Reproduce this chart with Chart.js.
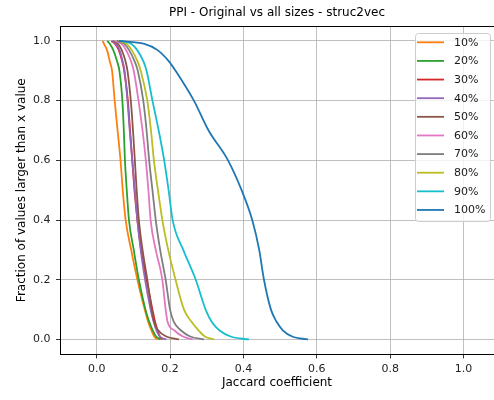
<!DOCTYPE html>
<html>
<head>
<meta charset="utf-8">
<script src="https://cdn.jsdelivr.net/npm/chart.js@4.4.0/dist/chart.umd.min.js"></script>
<style>
  html, body { margin: 0; padding: 0; background: #fff; }
</style>
</head>
<body>
<canvas id="ppiChart" width="494" height="400"></canvas>
<script>
// fraction levels (y) shared by every curve; each series gives the jaccard value (x) at that level
const fractionLevels = [1.0, 0.99, 0.97, 0.93, 0.9, 0.8, 0.7, 0.6, 0.5, 0.4, 0.3, 0.2, 0.1, 0.06, 0.03, 0.01, 0.0];

const sizeLabels = ['10%', '20%', '30%', '40%', '50%', '60%', '70%', '80%', '90%', '100%'];
const sizeColors = ['#ff7f0e', '#2ca02c', '#d62728', '#9467bd', '#8c564b', '#e377c2', '#7f7f7f', '#bcbd22', '#17becf', '#1f77b4'];

const jac10  = [0.016, 0.020, 0.028, 0.036, 0.042, 0.049, 0.057, 0.065, 0.071, 0.079, 0.094, 0.111, 0.131, 0.140, 0.149, 0.157, 0.166];
const jac20  = [0.029, 0.036, 0.045, 0.056, 0.062, 0.070, 0.074, 0.077, 0.082, 0.088, 0.101, 0.115, 0.133, 0.143, 0.153, 0.162, 0.174];
const jac30  = [0.040, 0.050, 0.060, 0.070, 0.075, 0.085, 0.091, 0.097, 0.103, 0.111, 0.121, 0.136, 0.152, 0.159, 0.166, 0.172, 0.180];
const jac40  = [0.042, 0.052, 0.062, 0.071, 0.076, 0.084, 0.090, 0.097, 0.104, 0.111, 0.120, 0.132, 0.147, 0.155, 0.163, 0.172, 0.190];
const jac50  = [0.045, 0.058, 0.068, 0.079, 0.084, 0.093, 0.099, 0.104, 0.109, 0.115, 0.125, 0.138, 0.150, 0.156, 0.168, 0.190, 0.224];
const jac60  = [0.050, 0.068, 0.080, 0.094, 0.101, 0.114, 0.125, 0.134, 0.141, 0.147, 0.161, 0.179, 0.188, 0.193, 0.212, 0.235, 0.262];
const jac70  = [0.055, 0.075, 0.088, 0.104, 0.112, 0.127, 0.136, 0.143, 0.152, 0.161, 0.173, 0.188, 0.200, 0.210, 0.230, 0.255, 0.293];
const jac80  = [0.060, 0.082, 0.095, 0.112, 0.120, 0.138, 0.148, 0.156, 0.167, 0.179, 0.195, 0.215, 0.238, 0.258, 0.278, 0.295, 0.320];
const jac90  = [0.065, 0.095, 0.110, 0.128, 0.136, 0.152, 0.169, 0.184, 0.196, 0.207, 0.236, 0.270, 0.297, 0.313, 0.335, 0.365, 0.415];
const jac100 = [0.060, 0.130, 0.165, 0.198, 0.215, 0.265, 0.305, 0.358, 0.395, 0.424, 0.443, 0.456, 0.475, 0.490, 0.508, 0.533, 0.576];

const allJac = [jac10, jac20, jac30, jac40, jac50, jac60, jac70, jac80, jac90, jac100];

const xTicks = [0.0, 0.2, 0.4, 0.6, 0.8, 1.0];
const yTicks = [0.0, 0.2, 0.4, 0.6, 0.8, 1.0];

const fontFamily = '"DejaVu Sans", sans-serif';

// matplotlib style legend inside the upper right corner
const legendBox = {
    id: 'legendBox',
    afterDatasetsDraw(chart) {
        const ctx = chart.ctx;
        ctx.save();
        ctx.beginPath();
        ctx.roundRect(415.5, 33.5, 75, 188, 3);
        ctx.fillStyle = 'rgba(255,255,255,0.8)';
        ctx.fill();
        ctx.strokeStyle = '#cccccc';
        ctx.lineWidth = 1;
        ctx.stroke();
        ctx.font = '11px ' + fontFamily;
        ctx.textBaseline = 'middle';
        chart.data.datasets.forEach((ds, i) => {
            const y = 42.3 + i * 18.63;
            ctx.strokeStyle = ds.borderColor;
            ctx.lineWidth = 1.8;
            ctx.beginPath();
            ctx.moveTo(417, y);
            ctx.lineTo(444, y);
            ctx.stroke();
            ctx.fillStyle = '#1a1a1a';
            ctx.fillText(ds.label, 454, y + 0.5);
        });
        ctx.restore();
    }
};

// top spine (matplotlib draws a full frame)
const topSpine = {
    id: 'topSpine',
    afterDraw(chart) {
        const a = chart.chartArea;
        const ctx = chart.ctx;
        ctx.save();
        ctx.strokeStyle = '#000';
        ctx.lineWidth = 1;
        ctx.beginPath();
        ctx.moveTo(a.left, Math.round(a.top) + 0.5);
        ctx.lineTo(a.right, Math.round(a.top) + 0.5);
        ctx.stroke();
        ctx.restore();
    }
};

function survivalChart() {
    const ctx = document.getElementById('ppiChart').getContext('2d');
    const datasets = allJac.map((xs, i) => ({
        label: sizeLabels[i],
        data: fractionLevels.map((f, j) => ({ x: xs[j], y: f })),
        borderColor: sizeColors[i],
        borderWidth: 1.8,
        pointRadius: 0,
        cubicInterpolationMode: 'monotone',
        fill: false,
        order: allJac.length - 1 - i
    }));

    new Chart(ctx, {
        type: 'line',
        data: { datasets: datasets },
        options: {
            responsive: false,
            animation: false,
            layout: { padding: 0 },
            plugins: {
                legend: { display: false },
                tooltip: { enabled: false },
                title: {
                    display: true,
                    fullSize: false,
                    text: 'PPI - Original vs all sizes - struc2vec',
                    color: '#000',
                    font: { family: fontFamily, size: 12, weight: 'normal' },
                    padding: { top: 6, bottom: 5.6 }
                }
            },
            scales: {
                x: {
                    type: 'linear',
                    min: -0.1,
                    max: 1.083,
                    afterFit: s => { s.height = 45.6; },
                    afterBuildTicks: s => { s.ticks = xTicks.map(v => ({ value: v })); },
                    ticks: {
                        callback: v => v.toFixed(1),
                        color: '#222',
                        font: { family: fontFamily, size: 11 },
                        padding: 4,
                        maxRotation: 0,
                        autoSkip: false
                    },
                    grid: { color: '#b0b0b0', lineWidth: 0.8, tickColor: '#000', tickLength: 4, tickWidth: 0.8 },
                    border: { color: '#000', width: 1 },
                    title: {
                        display: true,
                        text: 'Jaccard coefficient',
                        color: '#000',
                        font: { family: fontFamily, size: 12 },
                        padding: { top: 0, bottom: 10 }
                    }
                },
                y: {
                    type: 'linear',
                    min: -0.05,
                    max: 1.05,
                    afterFit: s => { s.width = 60; },
                    afterBuildTicks: s => { s.ticks = yTicks.map(v => ({ value: v })); },
                    ticks: {
                        callback: v => v.toFixed(1),
                        color: '#222',
                        font: { family: fontFamily, size: 11 },
                        padding: 5.5,
                        autoSkip: false
                    },
                    grid: { color: '#b0b0b0', lineWidth: 0.8, tickColor: '#000', tickLength: 4, tickWidth: 0.8 },
                    border: { color: '#000', width: 1 },
                    title: {
                        display: true,
                        text: 'Fraction of values larger than x value',
                        color: '#000',
                        font: { family: fontFamily, size: 12, lineHeight: 3.0 }
                    }
                }
            }
        },
        plugins: [legendBox, topSpine]
    });
}

document.addEventListener('DOMContentLoaded', () => {
    survivalChart();
});
</script>
</body>
</html>
